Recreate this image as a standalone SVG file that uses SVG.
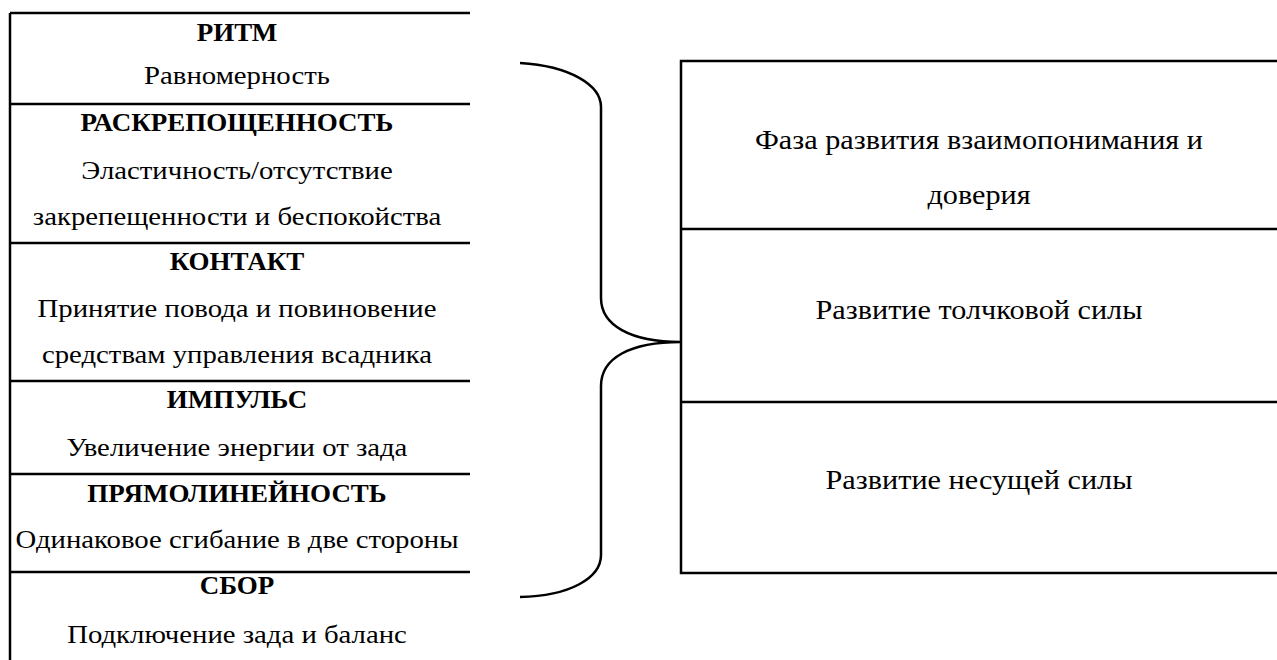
<svg xmlns="http://www.w3.org/2000/svg" width="1277" height="660" viewBox="0 0 1277 660">
<style>
.ln{stroke:#000;stroke-width:2.5;fill:none}
.t{font-family:'Liberation Serif','DejaVu Serif',serif;font-size:25px;fill:#000;text-anchor:middle;dominant-baseline:central}
.b{font-weight:bold;font-size:25px}
.r{font-size:27px}
</style>
<rect width="1277" height="660" fill="#fff"/>
<g id="left-table">
<path class="ln" d="M10,13 H470 M10,13 V660 M10,104 H470 M10,243 H470 M10,381 H470 M10,474 H470 M10,572 H470"/>
</g>
<g id="ritm"><text class="t b" transform="translate(237,33) scale(1.08,1)">РИТМ</text><text class="t" transform="translate(237,76) scale(1.15,1)">Равномерность</text></g>
<g id="raskreposhchennost"><text class="t b" transform="translate(237,123) scale(1.08,1)">РАСКРЕПОЩЕННОСТЬ</text><text class="t" transform="translate(237,171) scale(1.15,1)">Эластичность/отсутствие</text><text class="t" transform="translate(237,217) scale(1.15,1)">закрепещенности и беспокойства</text></g>
<g id="kontakt"><text class="t b" transform="translate(237,262) scale(1.08,1)">КОНТАКТ</text><text class="t" transform="translate(237,309) scale(1.15,1)">Принятие повода и повиновение</text><text class="t" transform="translate(237,355) scale(1.15,1)">средствам управления всадника</text></g>
<g id="impuls"><text class="t b" transform="translate(237,400) scale(1.08,1)">ИМПУЛЬС</text><text class="t" transform="translate(237,448) scale(1.15,1)">Увеличение энергии от зада</text></g>
<g id="pryamolineynost"><text class="t b" transform="translate(237,494) scale(1.08,1)">ПРЯМОЛИНЕЙНОСТЬ</text><text class="t" transform="translate(237,540) scale(1.15,1)">Одинаковое сгибание в две стороны</text></g>
<g id="sbor"><text class="t b" transform="translate(237,586) scale(1.08,1)">СБОР</text><text class="t" transform="translate(237,635) scale(1.15,1)">Подключение зада и баланс</text></g>
<g id="connectors">
<path class="ln" stroke-width="2" d="M520,63 C570,66 601,85 601,107 L601,298 C601,325 630,342 681,342 C630,342 601,358 601,386 L601,555 C601,578 570,596 520,597"/>
</g>
<g id="right-box">
<path class="ln" d="M1280,61 H681 V573 H1280 M681,229 H1280 M681,402 H1280"/>
</g>
<g id="phase1"><text class="t r" transform="translate(979,140) scale(1.12,1)">Фаза развития взаимопонимания и</text><text class="t r" transform="translate(979,195) scale(1.12,1)">доверия</text></g>
<g id="phase2"><text class="t r" transform="translate(979,310) scale(1.12,1)">Развитие толчковой силы</text></g>
<g id="phase3"><text class="t r" transform="translate(979,480) scale(1.12,1)">Развитие несущей силы</text></g>
</svg>
